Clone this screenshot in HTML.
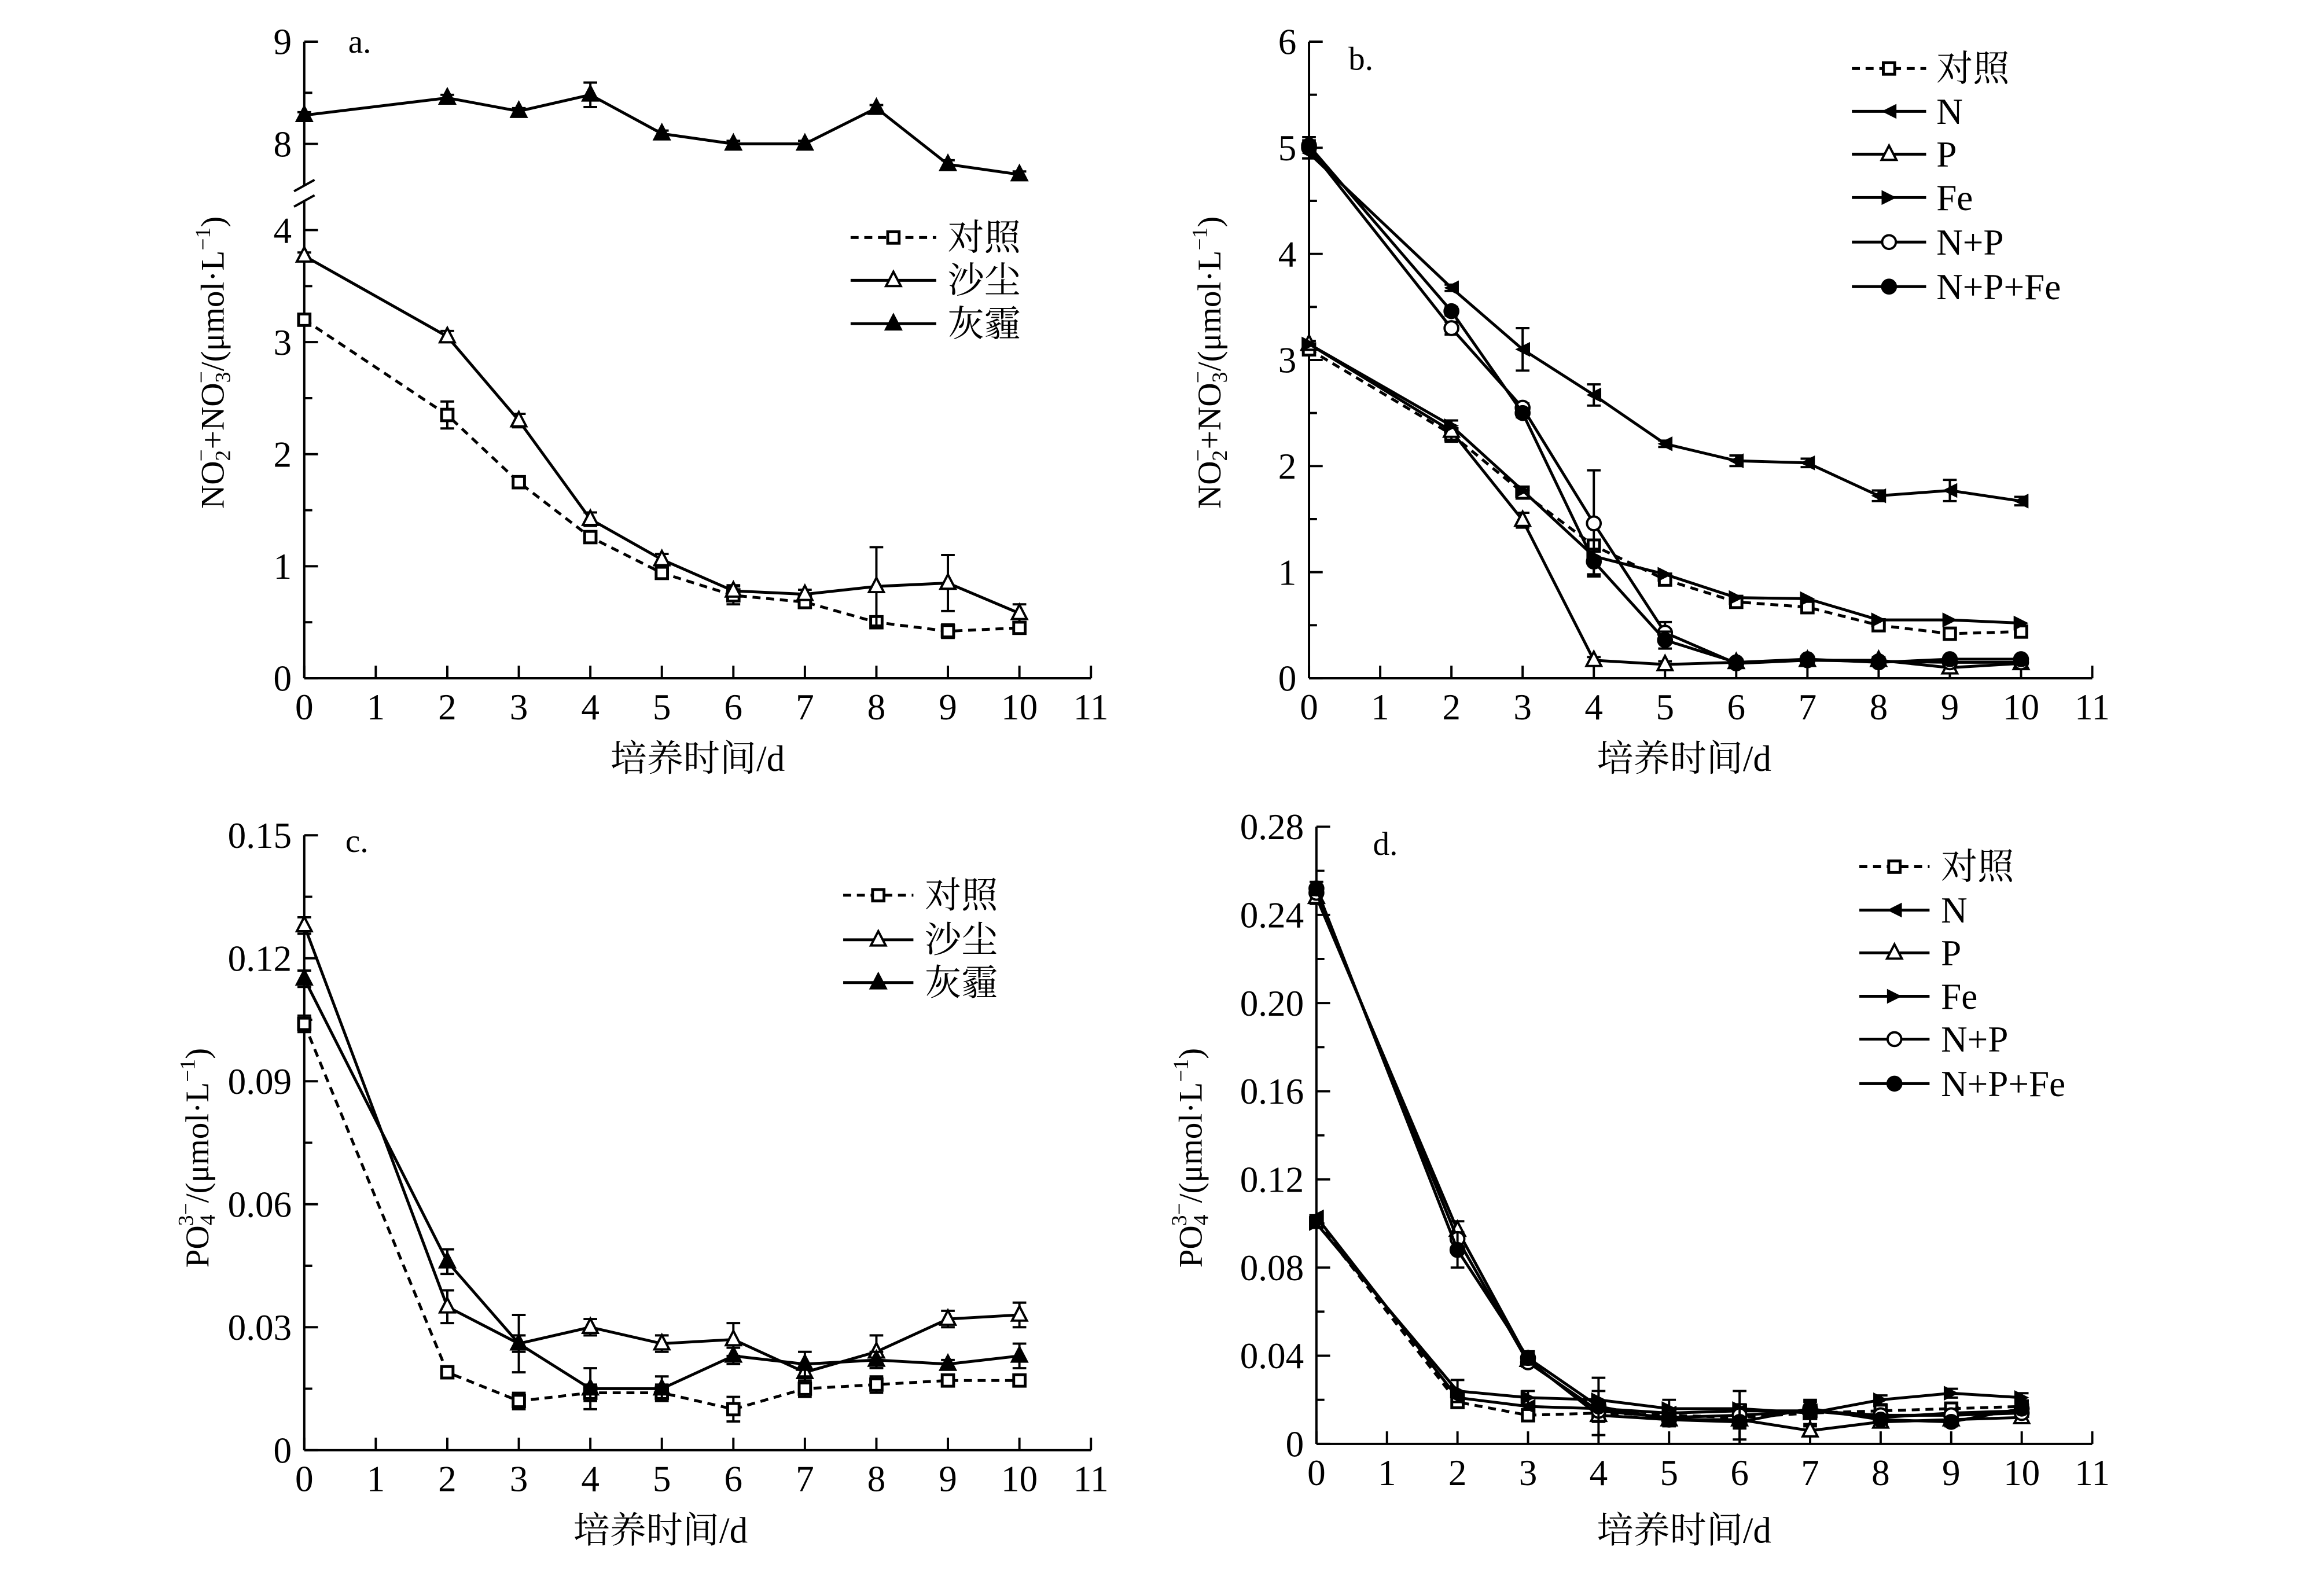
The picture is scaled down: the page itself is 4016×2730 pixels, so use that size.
<!DOCTYPE html>
<html><head><meta charset="utf-8">
<style>
html,body{margin:0;padding:0;background:#fff;}
svg{display:block;}
text{font-family:"Liberation Serif","Noto Serif CJK SC","Noto Sans CJK SC",serif;fill:#000;}
</style></head>
<body>
<svg id="fig" width="4016" height="2730" viewBox="0 0 4016 2730" xmlns="http://www.w3.org/2000/svg"><g id="root" transform="scale(0.9865)"></g></svg>
<script>
// ---- data ----
const days = [0,2,3,4,5,6,7,8,9,10];
const xTicks = [0,1,2,3,4,5,6,7,8,9,10,11];
// panel a
const aLabels = ["对照","沙尘","灰霾"];
const aCtrl = [3.2,2.35,1.75,1.26,0.94,0.74,0.68,0.5,0.42,0.45];
const aCtrlErr = [0.03,0.12,0.03,0.04,0.04,0.08,0.05,0.03,0.06,0.03];
const aDust = [3.77,3.05,2.3,1.42,1.06,0.78,0.75,0.82,0.85,0.58];
const aDustErr = [0.03,0.05,0.06,0.06,0.05,0.05,0.04,0.35,0.25,0.08];
const aHaze = [8.28,8.45,8.32,8.48,8.1,8.0,8.0,8.35,7.8,7.7];
const aHazeErr = [0.03,0.03,0.03,0.12,0.03,0.03,0.03,0.03,0.04,0.03];
const aLowTicks = [0,1,2,3,4];
const aHighTicks = [8,9];
// panel b
const bLabels = ["对照","N","P","Fe","N+P","N+P+Fe"];
const bCtrl = [3.1,2.3,1.75,1.25,0.93,0.72,0.67,0.5,0.42,0.44];
const bN = [4.95,3.68,3.1,2.67,2.21,2.05,2.03,1.72,1.77,1.67];
const bNErr = [0.05,0.03,0.2,0.1,0.03,0.05,0.04,0.05,0.1,0.04];
const bP = [3.15,2.33,1.49,0.17,0.13,0.15,0.17,0.17,0.1,0.14];
const bPErr = [0.03,0.1,0.07,0.03,0.03,0.03,0.03,0.03,0.03,0.03];
const bFe = [3.15,2.38,1.77,1.15,0.98,0.76,0.75,0.55,0.55,0.52];
const bNP = [5.0,3.3,2.55,1.46,0.43,0.14,0.17,0.16,0.15,0.15];
const bNPErr = [0.1,0.06,0.04,0.5,0.1,0.03,0.03,0.03,0.03,0.03];
const bNPFe = [5.02,3.46,2.5,1.1,0.36,0.15,0.18,0.15,0.18,0.18];
const bNPFeErr = [0.05,0.04,0.04,0.12,0.08,0.03,0.03,0.03,0.03,0.03];
const bTicks = [0,1,2,3,4,5,6];
// panel c
const cCtrl = [0.104,0.019,0.012,0.014,0.014,0.010,0.015,0.016,0.017,0.017];
const cCtrlErr = [0.002,0.001,0.002,0.002,0.002,0.003,0.002,0.002,0.001,0.001];
const cDust = [0.128,0.035,0.026,0.030,0.026,0.027,0.019,0.024,0.032,0.033];
const cDustErr = [0.002,0.004,0.002,0.002,0.002,0.004,0.002,0.004,0.002,0.003];
const cHaze = [0.115,0.046,0.026,0.015,0.015,0.023,0.021,0.022,0.021,0.023];
const cHazeErr = [0.002,0.003,0.007,0.005,0.003,0.002,0.003,0.002,0.001,0.003];
const cTicks = [0,0.03,0.06,0.09,0.12,0.15];
const cTickLabels = ["0","0.03","0.06","0.09","0.12","0.15"];
// panel d
const dCtrl = [0.101,0.019,0.013,0.014,0.013,0.012,0.014,0.015,0.016,0.017];
const dN = [0.103,0.021,0.017,0.016,0.014,0.015,0.015,0.012,0.014,0.015];
const dP = [0.248,0.097,0.038,0.013,0.011,0.011,0.006,0.010,0.011,0.012];
const dPErr = [0.003,0.004,0.003,0.003,0.002,0.004,0.002,0.002,0.002,0.002];
const dFe = [0.100,0.024,0.021,0.020,0.016,0.016,0.014,0.020,0.023,0.021];
const dFeErr = [0.002,0.005,0.003,0.004,0.004,0.008,0.005,0.002,0.002,0.002];
const dNP = [0.250,0.093,0.037,0.015,0.012,0.013,0.015,0.013,0.013,0.014];
const dNPFe = [0.252,0.088,0.039,0.017,0.011,0.010,0.016,0.011,0.010,0.016];
const dNPFeErr = [0.003,0.008,0.003,0.013,0.003,0.008,0.004,0.002,0.002,0.002];
const dTicks = [0,0.04,0.08,0.12,0.16,0.20,0.24,0.28];
const dTickLabels = ["0","0.04","0.08","0.12","0.16","0.20","0.24","0.28"];

const NS="http://www.w3.org/2000/svg";
const svg=document.getElementById('root');
const TF=64;
function mk(tag,attrs,parent){const e=document.createElementNS(NS,tag);for(const k in attrs)e.setAttribute(k,attrs[k]);(parent||svg).appendChild(e);return e;}

function marker(g,type,x,y){
  const s=13;
  let e;
  if(type==='square'){e=mk('rect',{x:x-10,y:y-10,width:20,height:20,fill:'#fff',stroke:'#000','stroke-width':5},g);}
  else if(type==='tri-open'||type==='tri-fill'){e=mk('polygon',{points:`${x},${y-s-2} ${x-s},${y+s-3} ${x+s},${y+s-3}`,fill:type==='tri-fill'?'#000':'#fff',stroke:'#000','stroke-width':4},g);}
  else if(type==='left'){e=mk('polygon',{points:`${x-s},${y} ${x+s},${y-s} ${x+s},${y+s}`,fill:'#000'},g);}
  else if(type==='right'){e=mk('polygon',{points:`${x+s},${y} ${x-s},${y-s} ${x-s},${y+s}`,fill:'#000'},g);}
  else if(type==='circle-open'||type==='circle-fill'){e=mk('circle',{cx:x,cy:y,r:12,fill:type==='circle-fill'?'#000':'#fff',stroke:'#000','stroke-width':4},g);}
  
  
}

function series(panel,name,vals,errs,type,dashed,sx,sy){
  const g=mk('g',{});
  
  
  const pts=days.map((d,i)=>sx(d)+','+sy(vals[i])).join(' ');
  const pl=mk('polyline',{points:pts,fill:'none',stroke:'#000','stroke-width':5,'stroke-dasharray':dashed?'14,10':'none'},g);
  
  
  if(errs){days.forEach((d,i)=>{const x=sx(d),y1=sy(vals[i]-errs[i]),y2=sy(vals[i]+errs[i]);
    const eb=mk('path',{d:`M${x},${y1}V${y2}M${x-12},${y1}H${x+12}M${x-12},${y2}H${x+12}`,stroke:'#000','stroke-width':4,fill:'none'},g);
    
    });}
  days.forEach((d,i)=>marker(g,type,sx(d),sy(vals[i])));
}

function legend(panel,entries,x1,x2,tx,ys){
  entries.forEach((en,i)=>{
    const g=mk('g',{});
    
    
    mk('line',{x1:x1,y1:ys[i],x2:x2,y2:ys[i],stroke:'#000','stroke-width':5,'stroke-dasharray':en[2]?'14,10':'none'},g);
    marker(g,en[1],(x1+x2)/2,ys[i]);
    const t=mk('text',{x:tx,y:ys[i]+22,'font-size':TF},g);t.textContent=en[0];
  });
}

function axes(panel,x0,x1,yBot,yTop,sx,yTickList,yTickLab,sy,minorList){
  const g=mk('g',{});
  
  
  mk('line',{x1:x0,y1:yBot,x2:x1,y2:yBot,stroke:'#000','stroke-width':4},g);
  mk('line',{x1:x0,y1:yBot,x2:x0,y2:yTop,stroke:'#000','stroke-width':4},g);
  xTicks.forEach(v=>{const x=sx(v);mk('line',{x1:x,y1:yBot,x2:x,y2:yBot-22,stroke:'#000','stroke-width':4},g);
    const t=mk('text',{x:x,y:yBot+72,'font-size':TF,'text-anchor':'middle'},g);t.textContent=v;
    });
  yTickList.forEach((v,i)=>{const y=sy(v);mk('line',{x1:x0,y1:y,x2:x0+24,y2:y,stroke:'#000','stroke-width':4},g);
    const t=mk('text',{x:x0-22,y:y+22,'font-size':TF,'text-anchor':'end'},g);t.textContent=yTickLab[i];
    });
  (minorList||[]).forEach(v=>{const y=sy(v);mk('line',{x1:x0,y1:y,x2:x0+14,y2:y,stroke:'#000','stroke-width':4},g);});
}

function xTitle(x,y){const t=mk('text',{x:x,y:y,'font-size':TF,'text-anchor':'middle'});t.textContent='培养时间/d';
  }
function panelLabel(s,x,y){const t=mk('text',{x:x,y:y,'font-size':58});t.textContent=s;
  }
function yTitleN(x,y){const t=mk('text',{transform:`translate(${x},${y}) rotate(-90)`,'font-size':58,'text-anchor':'middle'});
  t.innerHTML='NO<tspan font-size="38" dy="11">2</tspan><tspan font-size="38" dx="-20" dy="-38">−</tspan><tspan dy="27">+NO</tspan><tspan font-size="38" dy="11">3</tspan><tspan font-size="38" dx="-20" dy="-38">−</tspan><tspan dy="27">/(μmol·L</tspan><tspan font-size="38" dy="-24">−1</tspan><tspan dy="24">)</tspan>';
  }
function yTitleP(x,y){const t=mk('text',{transform:`translate(${x},${y}) rotate(-90)`,'font-size':58,'text-anchor':'middle'});
  t.innerHTML='PO<tspan font-size="38" dy="11">4</tspan><tspan font-size="38" dx="-20" dy="-38">3−</tspan><tspan dy="27">/(μmol·L</tspan><tspan font-size="38" dy="-24">−1</tspan><tspan dy="24">)</tspan>';
  }

// ---- panel a ----
(function(){
  const X0=533,X11=1911,sx=v=>X0+(X11-X0)*v/11;
  const yB=1188,y4=403;
  const syL=v=>yB-(yB-y4)*v/4;
  const y8=252,y9=73;
  const syH=v=>y8-(y8-y9)*(v-8);
  mk('line',{x1:X0,y1:yB,x2:X11,y2:yB,stroke:'#000','stroke-width':4});
  mk('line',{x1:X0,y1:yB,x2:X0,y2:352,stroke:'#000','stroke-width':4});
  mk('line',{x1:X0,y1:325,x2:X0,y2:73,stroke:'#000','stroke-width':4});
  mk('path',{d:`M${X0-18},${362}L${X0+18},${342}M${X0-18},${335}L${X0+18},${315}`,stroke:'#000','stroke-width':4,fill:'none'});
  xTicks.forEach(v=>{const x=sx(v);mk('line',{x1:x,y1:yB,x2:x,y2:yB-22,stroke:'#000','stroke-width':4});
    const t=mk('text',{x:x,y:yB+72,'font-size':TF,'text-anchor':'middle'});t.textContent=v;
    });
  aLowTicks.forEach(v=>{const y=syL(v);mk('line',{x1:X0,y1:y,x2:X0+24,y2:y,stroke:'#000','stroke-width':4});
    const t=mk('text',{x:X0-22,y:y+22,'font-size':TF,'text-anchor':'end'});t.textContent=v;
    });
  [0.5,1.5,2.5,3.5].forEach(v=>{const y=syL(v);mk('line',{x1:X0,y1:y,x2:X0+14,y2:y,stroke:'#000','stroke-width':4});});
  aHighTicks.forEach(v=>{const y=syH(v);mk('line',{x1:X0,y1:y,x2:X0+24,y2:y,stroke:'#000','stroke-width':4});
    const t=mk('text',{x:X0-22,y:y+22,'font-size':TF,'text-anchor':'end'});t.textContent=v;
    });
  [8.5].forEach(v=>{const y=syH(v);mk('line',{x1:X0,y1:y,x2:X0+14,y2:y,stroke:'#000','stroke-width':4});});
  series('a','control',aCtrl,aCtrlErr,'square',true,sx,syL);
  series('a','dust',aDust,aDustErr,'tri-open',false,sx,syL);
  series('a','haze',aHaze,aHazeErr,'tri-fill',false,sx,syH);
  legend('a',[[aLabels[0],'square',true],[aLabels[1],'tri-open',false],[aLabels[2],'tri-fill',false]],1490,1640,1660,[416,491,567]);
  panelLabel('a.',610,92);
  yTitleN(392,635);
  xTitle(1222,1350);
})();

// ---- panel b ----
(function(){
  const X0=2293,X11=3665,sx=v=>X0+(X11-X0)*v/11;
  const yB=1188,yT=73,sy=v=>yB-(yB-yT)*v/6;
  axes('b',X0,X11,yB,yT,sx,bTicks,bTicks.map(String),sy,[0.5,1.5,2.5,3.5,4.5,5.5]);
  series('b','control',bCtrl,null,'square',true,sx,sy);
  series('b','N',bN,bNErr,'left',false,sx,sy);
  series('b','P',bP,bPErr,'tri-open',false,sx,sy);
  series('b','Fe',bFe,null,'right',false,sx,sy);
  series('b','NP',bNP,bNPErr,'circle-open',false,sx,sy);
  series('b','NPFe',bNPFe,bNPFeErr,'circle-fill',false,sx,sy);
  legend('b',[[bLabels[0],'square',true],[bLabels[1],'left',false],[bLabels[2],'tri-open',false],[bLabels[3],'right',false],[bLabels[4],'circle-open',false],[bLabels[5],'circle-fill',false]],3244,3374,3392,[120,195,270,346,424,502]);
  panelLabel('b.',2362,122);
  yTitleN(2138,635);
  xTitle(2950,1350);
})();

// ---- panel c ----
(function(){
  const X0=533,X11=1911,sx=v=>X0+(X11-X0)*v/11;
  const yB=2540,yT=1463,sy=v=>yB-(yB-yT)*v/0.15;
  axes('c',X0,X11,yB,yT,sx,cTicks,cTickLabels,sy,[0.015,0.045,0.075,0.105,0.135]);
  series('c','control',cCtrl,cCtrlErr,'square',true,sx,sy);
  series('c','dust',cDust,cDustErr,'tri-open',false,sx,sy);
  series('c','haze',cHaze,cHazeErr,'tri-fill',false,sx,sy);
  legend('c',[[aLabels[0],'square',true],[aLabels[1],'tri-open',false],[aLabels[2],'tri-fill',false]],1477,1600,1620,[1568,1646,1721]);
  panelLabel('c.',605,1492);
  yTitleP(365,2028);
  xTitle(1157,2702);
})();

// ---- panel d ----
(function(){
  const X0=2306,X11=3665,sx=v=>X0+(X11-X0)*v/11;
  const yB=2529,yT=1448,sy=v=>yB-(yB-yT)*v/0.28;
  axes('d',X0,X11,yB,yT,sx,dTicks,dTickLabels,sy,[0.02,0.06,0.10,0.14,0.18,0.22,0.26]);
  series('d','control',dCtrl,null,'square',true,sx,sy);
  series('d','N',dN,null,'left',false,sx,sy);
  series('d','P',dP,dPErr,'tri-open',false,sx,sy);
  series('d','Fe',dFe,dFeErr,'right',false,sx,sy);
  series('d','NP',dNP,null,'circle-open',false,sx,sy);
  series('d','NPFe',dNPFe,dNPFeErr,'circle-fill',false,sx,sy);
  legend('d',[[bLabels[0],'square',true],[bLabels[1],'left',false],[bLabels[2],'tri-open',false],[bLabels[3],'right',false],[bLabels[4],'circle-open',false],[bLabels[5],'circle-fill',false]],3257,3380,3400,[1518,1594,1669,1745,1820,1898]);
  panelLabel('d.',2405,1497);
  yTitleP(2105,2028);
  xTitle(2950,2702);
})();
</script>
</body></html>
